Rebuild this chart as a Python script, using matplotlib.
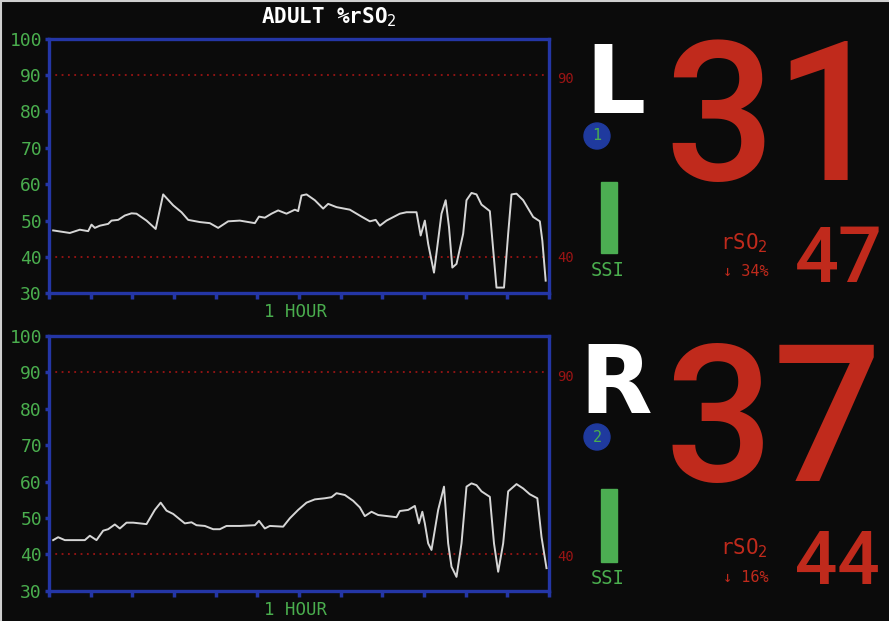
import matplotlib.pyplot as plt
from matplotlib.patches import Circle, Rectangle
from matplotlib.lines import Line2D
from matplotlib.textpath import TextPath
from matplotlib.font_manager import FontProperties

# Time (minutes within the 1 hour window) and rSO2 readings, left sensor
left_t = [0.5, 2.5, 3.7, 4.7, 5.1, 5.5, 6.1, 7.1, 7.5, 8.3, 9.1, 9.9, 10.5, 11.7, 12.8,
          13.7, 14.9, 15.9, 16.7, 18.1, 19.3, 20.3, 21.5, 22.9, 24.7, 25.2, 25.9, 26.7,
          27.5, 28.5, 29.5, 29.9, 30.3, 30.9, 31.9, 32.9, 33.5, 34.5, 36.1, 37.5, 38.5,
          39.2, 39.7, 40.5, 42.1, 42.9, 44.1, 44.6, 45.1, 45.5, 46.2, 47.1, 47.6, 48.0,
          48.4, 48.9, 49.7, 50.1, 50.7, 51.3, 51.9, 52.9, 53.7, 54.6, 55.1, 55.5, 56.1,
          56.9, 58.1, 58.9, 59.2, 59.6]
left_rso2 = [47.3, 46.6, 47.5, 47.1, 48.9, 48.0, 48.6, 49.1, 50.0, 50.2, 51.4, 52.0, 51.9,
             50.0, 47.7, 57.2, 54.2, 52.3, 50.2, 49.6, 49.3, 48.0, 49.8, 50.0, 49.3, 51.1,
             50.8, 51.9, 52.8, 51.9, 53.0, 52.6, 56.9, 57.2, 55.6, 53.3, 54.6, 53.7, 53.0,
             51.1, 49.8, 50.2, 48.6, 50.0, 51.9, 52.3, 52.3, 45.9, 50.0, 43.6, 35.7, 51.9,
             55.6, 48.2, 37.1, 38.1, 46.4, 55.6, 57.6, 57.2, 54.4, 52.6, 31.6, 31.6, 46.4,
             57.2, 57.4, 55.6, 51.0, 49.8, 44.5, 33.5]

# right sensor
right_t = [0.5, 1.1, 1.9, 4.3, 4.9, 5.7, 6.5, 7.1, 7.9, 8.5, 9.3, 10.1, 11.7, 12.7, 13.4,
           14.1, 14.9, 16.3, 17.1, 17.7, 18.7, 19.7, 20.5, 21.3, 22.9, 24.7, 25.2, 25.9,
           26.5, 28.1, 28.9, 29.9, 30.9, 31.9, 33.1, 33.9, 34.5, 35.5, 36.5, 37.3, 37.9,
           38.7, 39.5, 41.7, 42.1, 43.1, 43.9, 44.4, 44.8, 45.1, 45.5, 45.9, 46.7, 47.4,
           47.9, 48.3, 48.9, 49.5, 50.1, 50.7, 51.3, 51.9, 52.9, 53.4, 53.9, 54.5, 55.1,
           56.1, 56.9, 57.7, 58.6, 59.1, 59.7]
right_rso2 = [43.9, 44.7, 43.9, 43.9, 45.1, 43.9, 46.5, 46.9, 48.2, 47.1, 48.7, 48.7, 48.3,
              52.2, 54.2, 52.0, 51.1, 48.5, 48.8, 48.0, 47.8, 46.9, 46.9, 47.8, 47.8, 48.0,
              49.2, 47.1, 47.8, 47.6, 49.9, 52.2, 54.2, 55.1, 55.4, 55.7, 56.8, 56.3, 54.7,
              52.9, 50.5, 51.7, 50.8, 50.2, 51.9, 52.2, 53.3, 48.5, 51.7, 48.5, 43.0, 41.2,
              52.2, 58.6, 43.0, 36.6, 33.8, 43.0, 58.6, 59.5, 59.0, 57.3, 55.8, 43.0, 35.2,
              43.0, 57.3, 59.3, 58.1, 56.5, 55.4, 44.8, 36.2]

y_ticks = [30, 40, 50, 60, 70, 80, 90, 100]
alarm_high = 90
alarm_low = 40
sides = ["L", "R"]
channels = ["1", "2"]
current = ["31", "37"]
baseline = ["47", "44"]
drop = ["34%", "16%"]

W, H = 889, 621
BG = "#0b0b0b"
BLUE = "#2436a6"
GREEN = "#4aae4e"
RED = "#c02a1c"
DARKRED = "#9a1414"

fig = plt.figure(figsize=(W / 100, H / 100), dpi=100, facecolor=BG)
mono = "DejaVu Sans Mono"
num_prop = dict(family="Roboto", weight=500)

def px(x, y):
    # pixel position (from top-left) -> figure fraction
    return x / W, 1 - y / H

def fit_number(s, left, top, bottom):
    # size the number so its ink fills the rows top..bottom, ink starting at left
    ext = TextPath((0, 0), s, size=100, prop=FontProperties(**num_prop)).get_extents()
    fs = (bottom - top) * 72 / ext.height
    x0 = left - ext.x0 * fs / 72
    base = H - bottom - ext.y0 * fs / 72
    fig.text(x0 / W, base / H, s, color=RED, fontsize=fs, family=num_prop["family"],
             fontweight=num_prop["weight"], ha="left", va="baseline")

def draw_trend(ax, t, vals):
    ax.set_facecolor(BG)
    ax.plot(t, vals, color="#d6d6d6", lw=1.4, zorder=3)
    for lvl in [alarm_high, alarm_low]:
        ax.axhline(lvl, color=DARKRED, lw=1.3, ls=(0, (1, 2.5)), zorder=2)
    ax.set_xlim(0, 60)
    ax.set_ylim(30, 100)
    ax.set_yticks(y_ticks)
    ax.set_yticklabels([str(v) for v in y_ticks], color=GREEN, fontsize=13,
                       family=mono)
    ax.set_xticks(range(0, 61, 5))
    ax.set_xticklabels([])
    ax.tick_params(axis="x", color=BLUE, length=4, width=2.5, direction="out")
    ax.tick_params(axis="y", color=BLUE, length=3, width=2.5, direction="out", pad=2)
    for s in ax.spines.values():
        s.set_color(BLUE)
        s.set_linewidth(2.4)

ax1 = fig.add_axes([49 / W, 1 - 293.4 / H, 500 / W, 254.8 / H])
draw_trend(ax1, left_t, left_rso2)
ax2 = fig.add_axes([49 / W, 1 - 590.7 / H, 500 / W, 254.7 / H])
draw_trend(ax2, right_t, right_rso2)

fig.text(*px(329, 17), "ADULT %rSO$_2$", color="white", fontsize=15, family=mono,
         fontweight="bold", ha="center", va="center")

# per panel rows in pixels, top panel then bottom panel
rows = [
    dict(hour=312, r90=79, r40=258, letter=113, circ=136, bar=(182, 253), ssi=271,
         big=(40, 182), rso=243, drop=272, small=(227, 282)),
    dict(hour=610, r90=377, r40=557, letter=413, circ=437, bar=(489, 562), ssi=579,
         big=(343, 483), rso=548, drop=578, small=(531, 584)),
]

for i, r in enumerate(rows):
    fig.text(*px(296, r["hour"]), "1 HOUR", color=GREEN, fontsize=12.5, family=mono,
             ha="center", va="center")
    fig.text(*px(566, r["r90"]), str(alarm_high), color=DARKRED, fontsize=10,
             family=mono, ha="center", va="center")
    fig.text(*px(566, r["r40"]), str(alarm_low), color=DARKRED, fontsize=10,
             family=mono, ha="center", va="center")

    # mathtext keeps the box tight to the letter (no descent below it)
    fig.text(*px(615, r["letter"]), r"$\mathbf{%s}$" % sides[i], color="white",
             fontsize=68, ha="center", va="baseline")

    cx, cy = px(597, r["circ"])
    fig.add_artist(Circle((597, H - r["circ"]), 13, color="#1f3a9e", transform=None))
    fig.text(cx, cy, channels[i], color=GREEN, fontsize=11, family=mono,
             ha="center", va="center")

    b0, b1 = r["bar"]
    fig.add_artist(Rectangle(px(600.5, b1), 16 / W, (b1 - b0) / H, color="#4cae52",
                             transform=fig.transFigure))
    fig.text(*px(608, r["ssi"]), "SSI", color=GREEN, fontsize=13.5, family=mono,
             ha="center", va="center")

    fit_number(current[i], 672, r["big"][0], r["big"][1])
    fig.text(*px(744, r["rso"]), "rSO$_2$", color=RED, fontsize=15, family=mono,
             ha="center", va="center")
    fig.text(*px(746, r["drop"]), "\u2193 " + drop[i], color=RED, fontsize=11,
             family=mono, ha="center", va="center")
    fit_number(baseline[i], 797, r["small"][0], r["small"][1])

# thin light frame on top and left edge
fig.add_artist(Line2D([0, 1], [0.999, 0.999], color="#cfcfcf", lw=1.5,
                      transform=fig.transFigure))
fig.add_artist(Line2D([0.001, 0.001], [0, 1], color="#cfcfcf", lw=1.5,
                      transform=fig.transFigure))

fig.savefig("out.png", dpi=100, facecolor=BG)
